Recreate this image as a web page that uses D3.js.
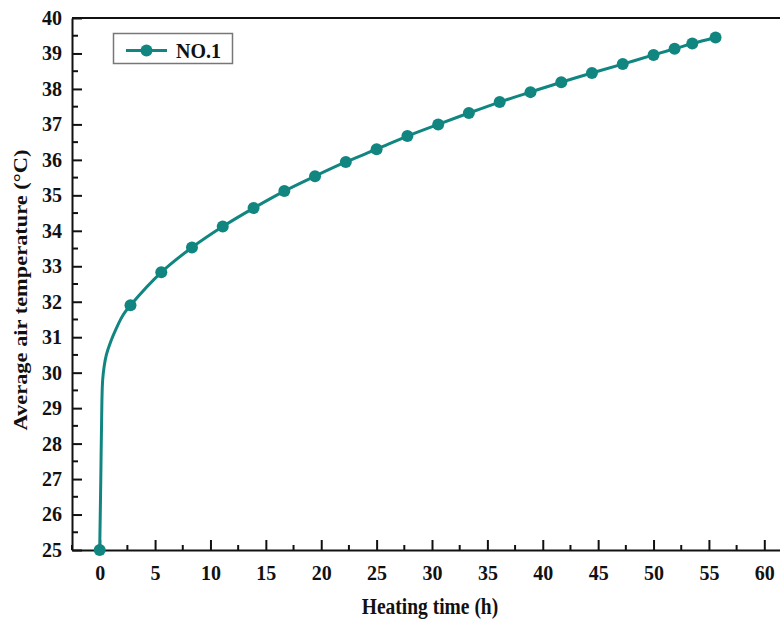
<!DOCTYPE html>
<html>
<head>
<meta charset="utf-8">
<script src="https://cdn.jsdelivr.net/npm/d3@7"></script>
<style>
  html, body { margin: 0; padding: 0; background: #fff; }
  svg { display: block; }
  text { font-family: "Liberation Serif", "Times New Roman", serif; font-weight: bold; fill: #111; }
</style>
</head>
<body>
<svg id="chart" width="780" height="624"></svg>
<script>
// ---- data ----
const seriesName = "NO.1";
const markerTime = [0, 2.78, 5.56, 8.33, 11.11, 13.89, 16.67, 19.44, 22.22, 25.0, 27.78, 30.56, 33.33, 36.11, 38.89, 41.67, 44.44, 47.22, 50.0, 51.9, 53.5, 55.6];
const markerTemp = [25, 31.9, 32.83, 33.53, 34.12, 34.64, 35.12, 35.54, 35.94, 36.3, 36.67, 37.0, 37.32, 37.63, 37.91, 38.19, 38.45, 38.7, 38.96, 39.13, 39.28, 39.45];
// extra (unmarked) line samples during the initial rise
const riseTime = [0.1, 0.2, 0.27, 0.4, 0.6, 1.0, 1.5, 2.1];
const riseTemp = [27.0, 29.2, 29.8, 30.17, 30.5, 30.88, 31.25, 31.62];
const xTicks = [0, 5, 10, 15, 20, 25, 30, 35, 40, 45, 50, 55, 60];
const yTicks = [25, 26, 27, 28, 29, 30, 31, 32, 33, 34, 35, 36, 37, 38, 39, 40];
const xLabel = "Heating time (h)";
const yLabel = "Average air temperature (\u00B0C)";

// ---- layout ----
const svg = d3.select("#chart");
const color = "#118680";
const mLeft = 72, mTop = 18, mBottom = 550, mRight = 792;
const x = d3.scaleLinear().domain([-2.5, 62.5]).range([mLeft, mRight]);
const y = d3.scaleLinear().domain([25, 40]).range([mBottom, mTop]);

const linePts = markerTime.map((t, i) => [t, markerTemp[i]])
  .concat(riseTime.map((t, i) => [t, riseTemp[i]]))
  .sort((a, b) => a[0] - b[0]);

// frame top line
svg.append("line").attr("x1", mLeft).attr("x2", mRight).attr("y1", mTop).attr("y2", mTop)
  .attr("stroke", "#111").attr("stroke-width", 2);

const xMinor = d3.range(-2.5, 62.6, 2.5).filter(v => Math.abs(v % 5) > 0.01);
const yMinor = d3.range(25.5, 40, 1);

const gx = svg.append("g").attr("transform", `translate(0,${mBottom})`);
gx.call(d3.axisBottom(x).tickValues(xTicks).tickSize(-10).tickSizeOuter(0).tickPadding(16).tickFormat(d3.format("d")));
gx.append("g").selectAll("line").data(xMinor).join("line")
  .attr("x1", d => x(d)).attr("x2", d => x(d)).attr("y1", 0).attr("y2", -5)
  .attr("stroke", "#111").attr("stroke-width", 2);

const gy = svg.append("g").attr("transform", `translate(${mLeft},0)`);
gy.call(d3.axisLeft(y).tickValues(yTicks).tickSize(-10).tickSizeOuter(0).tickPadding(10).tickFormat(d3.format("d")));
gy.append("g").selectAll("line").data(yMinor).join("line")
  .attr("x1", 0).attr("x2", 6).attr("y1", d => y(d)).attr("y2", d => y(d))
  .attr("stroke", "#111").attr("stroke-width", 2);

[gx, gy].forEach(g => {
  g.select(".domain").attr("stroke", "#111").attr("stroke-width", 2);
  g.selectAll(".tick line").attr("stroke", "#111").attr("stroke-width", 2);
  g.selectAll(".tick text").attr("font-family", "Liberation Serif, serif")
    .attr("font-weight", "bold").attr("font-size", 20).attr("fill", "#111");
});

// axis titles (slightly stretched vertically like the reference)
svg.append("text").attr("transform", "translate(430,614) scale(1,1.15)").attr("text-anchor", "middle")
  .attr("font-size", 19.5).text(xLabel);
svg.append("text").attr("transform", `translate(27,${(mTop + mBottom) / 2 + 6}) scale(1,1.15) rotate(-90)`)
  .attr("text-anchor", "middle").attr("font-size", 19.5).text(yLabel);

// line + markers
const line = d3.line().x(d => x(d[0])).y(d => y(d[1])).curve(d3.curveCatmullRom.alpha(0.5));
svg.append("path").datum(linePts).attr("d", line)
  .attr("fill", "none").attr("stroke", color).attr("stroke-width", 3);
svg.append("g").selectAll("circle").data(markerTime.map((t, i) => [t, markerTemp[i]])).join("circle")
  .attr("cx", d => x(d[0])).attr("cy", d => y(d[1])).attr("r", 6).attr("fill", color);

// legend
const lg = svg.append("g");
lg.append("rect").attr("x", 113.5).attr("y", 33.5).attr("width", 119).attr("height", 30)
  .attr("fill", "#fff").attr("stroke", "#777").attr("stroke-width", 1.5);
lg.append("line").attr("x1", 126).attr("x2", 167).attr("y1", 50.5).attr("y2", 50.5)
  .attr("stroke", color).attr("stroke-width", 3);
lg.append("circle").attr("cx", 146.5).attr("cy", 50.5).attr("r", 6).attr("fill", color);
lg.append("text").attr("transform", "translate(176,58) scale(1,1.1)").attr("font-size", 20).text(seriesName);
</script>
</body>
</html>
